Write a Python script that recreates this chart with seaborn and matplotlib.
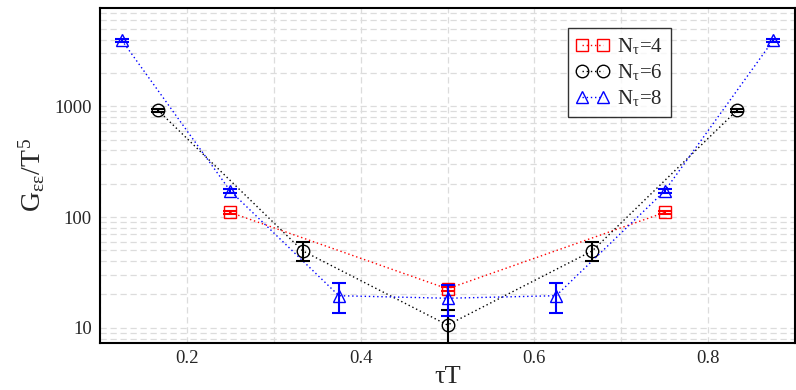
import numpy as np
import pandas as pd
import matplotlib
matplotlib.use("Agg")
import matplotlib.pyplot as plt
import matplotlib.ticker as mticker
import seaborn as sns

# ---- data ----
x_n4 = [0.25, 0.5, 0.75]
y_n4 = [110, 22.5, 110]
e_n4 = [4, 1.0, 4]

x_n6 = [1/6, 1/3, 0.5, 2/3, 5/6]
y_n6 = [920, 49.5, 10.6, 49.5, 920]
e_n6 = [25, 9.5, 4.0, 9.5, 25]

x_n8 = [0.125, 0.25, 0.375, 0.5, 0.625, 0.75, 0.875]
y_n8 = [3950, 172, 19.5, 18.5, 19.5, 172, 3950]
e_n8 = [120, 8, 6.0, 5.8, 6.0, 8, 120]

labels = [r"N$_{\mathregular{τ}}$=4", r"N$_{\mathregular{τ}}$=6", r"N$_{\mathregular{τ}}$=8"]
colors = ["#ff0000", "#000000", "#0000ff"]
markers = ["s", "o", "^"]
xticks = [0.2, 0.4, 0.6, 0.8]
yticks = [10, 100, 1000]

df = pd.concat([
    pd.DataFrame({"x": x_n4, "y": y_n4, "e": e_n4, "s": labels[0]}),
    pd.DataFrame({"x": x_n6, "y": y_n6, "e": e_n6, "s": labels[1]}),
    pd.DataFrame({"x": x_n8, "y": y_n8, "e": e_n8, "s": labels[2]}),
], ignore_index=True)

sns.set_theme(style="white")
plt.rcParams["font.family"] = ["Liberation Serif", "DejaVu Serif"]
plt.rcParams["mathtext.fontset"] = "stix"

fig = plt.figure(figsize=(7.96, 3.90), dpi=100)
ax = fig.add_axes([100/796, 1-343/390, 695/796, 335/390])

ax.set_yscale("log")
ax.set_xlim(0.1, 0.9)
ax.set_ylim(7.3, 7700)

sns.lineplot(data=df, x="x", y="y", hue="s", style="s",
             palette=dict(zip(labels, colors)),
             markers=dict(zip(labels, markers)),
             dashes={l: (1, 2) for l in labels},
             hue_order=labels, style_order=labels,
             errorbar=None, sort=True, legend=False, ax=ax,
             linewidth=1.0, markersize=9, markeredgewidth=1.0,
             zorder=3)
lines = list(ax.lines)
for ln in lines:
    ln.set_markerfacecolor("none")
    ln.set_markeredgecolor(ln.get_color())

for lab, c in zip(labels, colors):
    sub = df[df["s"] == lab]
    ax.errorbar(sub["x"], sub["y"], yerr=sub["e"], fmt="none",
                ecolor=c, elinewidth=1.5, capsize=5, capthick=1.5, zorder=4)

ax.set_xticks(xticks)
ax.set_xticklabels([f"{v:.1f}" for v in xticks])
ax.xaxis.set_minor_locator(mticker.MultipleLocator(0.1))
ax.set_yticks(yticks)
ax.set_yticklabels([str(v) for v in yticks])
ax.yaxis.set_minor_locator(mticker.LogLocator(base=10, subs=np.arange(2, 10)))
ax.yaxis.set_minor_formatter(mticker.NullFormatter())
ax.tick_params(axis="both", which="both", length=0, labelsize=13.5)
ax.tick_params(axis="x", pad=5)
ax.tick_params(axis="y", pad=6)

ax.grid(True, which="both", axis="both", color="#dcdcdc",
        linestyle=(0, (5, 3)), linewidth=0.9, zorder=0)
ax.set_axisbelow(True)
for sp in ax.spines.values():
    sp.set_color("black")
    sp.set_linewidth(1.5)

ax.set_xlabel("τT", fontsize=19, labelpad=-1)
ax.set_ylabel(r"G$_{\mathregular{εε}}$/T$^{\mathregular{5}}$", fontsize=20, labelpad=5)

leg = ax.legend(handles=lines, labels=labels, numpoints=2,
                loc="upper left", bbox_to_anchor=(0.673, 0.94),
                fontsize=15, frameon=True, fancybox=False, shadow=False,
                handlelength=1.6, handletextpad=0.35, borderpad=0.4,
                labelspacing=0.25, borderaxespad=0)
leg.get_frame().set_edgecolor("black")
leg.get_frame().set_linewidth(1.0)

fig.savefig("out.png", dpi=100)
